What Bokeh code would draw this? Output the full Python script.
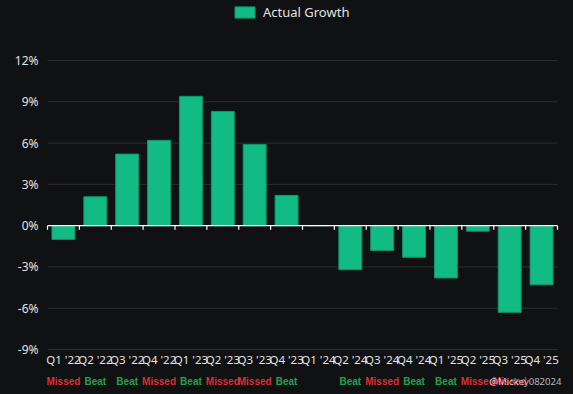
from bokeh.plotting import figure
from bokeh.models import ColumnDataSource, Label, Legend, LegendItem, Range1d
from bokeh.core.properties import value
from bokeh.embed import file_html
from bokeh.resources import INLINE

quarters = ["Q1 '22", "Q2 '22", "Q3 '22", "Q4 '22", "Q1 '23", "Q2 '23", "Q3 '23", "Q4 '23",
            "Q1 '24", "Q2 '24", "Q3 '24", "Q4 '24", "Q1 '25", "Q2 '25", "Q3 '25", "Q4 '25"]
growth = [-1.0, 2.1, 5.2, 6.2, 9.4, 8.3, 5.9, 2.2, 0.0, -3.2, -1.8, -2.3, -3.8, -0.4, -6.3, -4.3]
results = ["Missed", "Beat", "Beat", "Missed", "Beat", "Missed", "Missed", "Beat",
           "", "Beat", "Missed", "Beat", "Beat", "Missed", "Missed", ""]
y_ticks = [-9, -6, -3, 0, 3, 6, 9, 12]
y_tick_labels = ["-9%", "-6%", "-3%", "0%", "3%", "6%", "9%", "12%"]
series_name = "Actual Growth"
watermark = "@Mickey082024"

BG = "#0f1113"
BAR = "#12ba84"
BAR_EDGE = "#0e9568"
GREEN = "#22a24c"
RED = "#dc2f2f"
TXT = "#e2e2e2"
GRID = "#2a2e31"
FONT = "Noto Sans"
FONT_B = "Liberation Sans"

W, H = 573, 394
LEFT_PX, RIGHT_PX = 47, 557       # plot area columns
TOP_PX, BOT_PX = 60, 349          # pixel rows of the 12% and -9% grid lines
n = len(quarters)
y_lo, y_hi = min(y_ticks), max(y_ticks)
ppu_y = (BOT_PX - TOP_PX) / (y_hi - y_lo)
ppu_x = (RIGHT_PX - LEFT_PX) / n
x_range = Range1d(-LEFT_PX / ppu_x, n + (W - RIGHT_PX) / ppu_x)
y_range = Range1d(y_lo - (H - BOT_PX) / ppu_y, y_hi + TOP_PX / ppu_y)

xc = [i + 0.5 for i in range(n)]
cat_y = y_lo - 10 / ppu_y
res_y = y_lo - 32 / ppu_y
res_colors = [GREEN if r == "Beat" else RED for r in results]
src = ColumnDataSource(dict(x=xc, q=quarters, g=growth, r=results, rc=res_colors,
                            cy=[cat_y] * n, ry=[res_y] * n))

p = figure(width=W, height=H, output_backend="svg", toolbar_location=None,
           x_range=x_range, y_range=y_range)
p.background_fill_color = BG
p.border_fill_color = BG
p.outline_line_color = None
p.min_border = 0
p.axis.visible = False
p.grid.visible = False

# horizontal grid lines over the plot area only
gsrc = ColumnDataSource(dict(y=y_ticks, x0=[0] * len(y_ticks), x1=[n] * len(y_ticks),
                             lab=y_tick_labels, lx=[-9 / ppu_x] * len(y_ticks)))
p.segment(x0="x0", x1="x1", y0="y", y1="y", source=gsrc, line_color=GRID, line_width=1)
p.text(x="lx", y="y", text="lab", source=gsrc, text_color=TXT, text_font=value(FONT),
       text_font_size="12px", text_align="right", text_baseline="middle")

bars = p.vbar(x="x", top="g", bottom=0, width=0.72, source=src,
              fill_color=BAR, line_color=BAR_EDGE, line_width=1)

# zero axis line with boundary ticks
tick_len = 4 / ppu_y
zsrc = ColumnDataSource(dict(x=list(range(n + 1)), y0=[0] * (n + 1), y1=[-tick_len] * (n + 1)))
p.segment(x0=0, x1=n, y0=0, y1=0, line_color="#ffffff", line_width=1.2)
p.segment(x0="x", x1="x", y0="y0", y1="y1", source=zsrc, line_color="#ffffff", line_width=1.2)

# category labels
p.text(x="x", y="cy", text="q", source=src, text_color=TXT, text_font=value(FONT),
       text_font_size="11.5px", text_align="center", text_baseline="middle")
# Beat / Missed labels
p.text(x="x", y="ry", text="r", source=src, text_color="rc", text_font=value(FONT_B),
       text_font_size="10px", text_font_style="bold", text_align="center",
       text_baseline="middle")

# watermark
p.add_layout(Label(x=489, y=H - 381, x_units="screen", y_units="screen", text=watermark,
                   text_color="#ffffff", text_alpha=0.7, text_font=FONT,
                   text_font_size="9.5px", text_baseline="middle"))

legend = Legend(items=[LegendItem(label=series_name, renderers=[bars])],
                location=(232, H - 21), orientation="horizontal",
                glyph_width=25, glyph_height=14, label_standoff=6,
                label_text_color=TXT, label_text_font=FONT, label_text_font_size="13px",
                background_fill_alpha=0, border_line_alpha=0, padding=0, margin=0)
p.add_layout(legend)

html = file_html(p, INLINE)
html = html.replace("<head>", "<head><style>html,body{background:%s;}</style>" % BG, 1)
open("out.html", "w").write(html)
